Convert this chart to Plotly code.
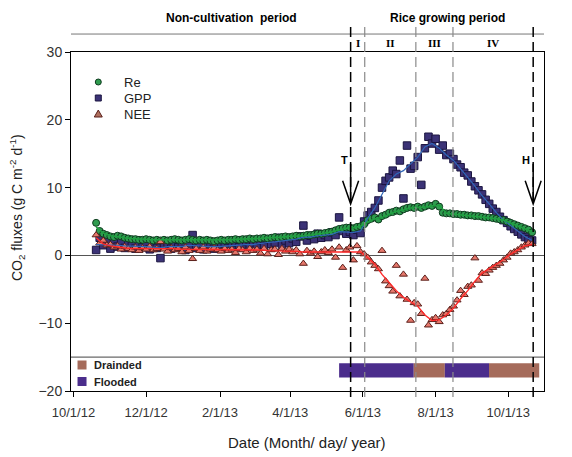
import pandas as pd
import plotly.graph_objects as go

# ---------------- data ----------------
# daily-flux observations, sampled every 3 days starting 2012-10-20
obs_dates = pd.date_range("2012-10-20", periods=123, freq="3D")

re_obs = [4.8, 3.6, 3.2, 3.0, 2.8, 2.7, 2.9, 2.8, 2.6, 2.5,
          2.4, 2.4, 2.3, 2.3, 2.4, 2.3, 2.2, 2.3, 2.2, 2.3,
          2.2, 2.3, 2.4, 2.3, 2.2, 2.3, 2.4, 2.3, 2.2, 2.3,
          2.2, 2.3, 2.2, 2.1, 2.2, 2.3, 2.2, 2.3, 2.3, 2.4,
          2.3, 2.4, 2.4, 2.5, 2.4, 2.5, 2.5, 2.6, 2.5, 2.6,
          2.7, 2.6, 2.7, 2.8, 2.7, 2.8, 2.9, 2.8, 2.9, 3.0,
          3.0, 3.1, 3.2, 3.2, 3.3, 3.4, 3.5, 3.7, 3.9, 4.0,
          4.1,
          4.1, 4.0, 4.2, 4.3, 4.6, 5.2, 5.4, 5.6, 5.3, 5.8,
          6.0, 6.3, 6.4, 6.6, 6.5, 6.8, 7.0, 7.1, 7.0, 7.2,
          7.0, 7.2, 7.4, 7.3, 7.6, 7.2, 6.3, 6.2, 6.2, 6.1,
          6.1, 6.0, 6.0, 5.9, 5.9, 5.8, 5.8, 5.7, 5.6, 5.6,
          5.5, 5.4, 5.3, 5.2, 5.0, 4.8, 4.6, 4.4, 4.2, 4.0,
          3.8, 3.4]

gpp_obs = [0.8, 2.6, 1.5, 2.2, 1.0, 1.8, 1.3, 1.9, 1.1, 1.6,
           1.4, 1.0, 1.7, 1.2, 1.5, 0.9, 1.4, 1.1, -0.4, 1.3,
           1.6, 1.0, 1.5, 1.2, 1.8, 0.8, 1.4, 3.0, 1.1, 1.5,
           0.9, 1.6, 1.2, 1.0, 1.5, 1.3, 1.7, 1.1, 1.4, 1.9,
           1.2, 1.6, 2.0, 1.3, 1.8, 1.5, 2.2, 1.4, 2.4, 1.7,
           1.9, 2.6, 1.6, 2.2, 1.8, 2.5, 2.0, 2.8, 4.4, 2.2,
           2.9, 2.4, 3.2, 2.6, 3.0, 2.7, 3.4, 3.0, 5.6, 3.6,
           3.2,
           3.5, 3.0, 3.8, 3.3, 5.0, 5.9, 6.4, 7.0, 8.1, 10.0,
           11.0, 11.5, 12.5, 12.0, 14.0, 8.4, 16.2, 12.8, 13.2, 14.5,
           10.4, 15.8, 17.5, 16.5, 17.2, 15.6, 16.2, 14.8, 15.0, 14.2,
           13.4, 13.0, 12.2, 11.8, 10.9, 10.2, 9.6, 9.0, 8.2, 7.6,
           6.9, 6.4, 5.7, 5.2, 4.8, 4.3, 3.9, 3.5, 3.1, 2.7,
           2.4, 2.2]

nee_obs = [3.0, 1.8, 2.2, 1.5, 1.6, 1.2, 1.4, 0.9, 1.3, 1.0,
           0.8, 1.2, 0.7, 1.1, 0.9, 1.3, 0.8, 1.0, 2.0, 0.9,
           0.6, 1.1, 0.8, 1.0, 0.5, 1.2, 0.7, -0.5, 1.0, 0.7,
           1.2, 0.6, 0.9, 1.1, 0.8, 0.6, 1.0, 0.7, 0.9, 0.4,
           1.0, 0.8, 0.5, 1.0, 0.7, 0.9, 0.3, 1.0, 0.2, 0.8,
           0.9, 0.1, 1.0, 0.6, 0.9, 0.5, 0.8, 0.2, -1.2, 0.7,
           0.3, 0.6, -0.2, 0.5, 0.8, 0.4, 0.9, -0.3, 1.2, -1.8,
           0.8,
           1.2, -0.7, 1.4, 0.5, 0.2, -0.3, -1.0, -1.5, -2.0, 0.7,
           -3.8, -4.5, -5.3, -1.5, -6.0, -2.8, -6.5, -9.6, -7.0, -7.2,
           -8.6, -3.4, -10.3, -9.5, -9.2, -9.8, -8.8, -8.6, -8.0, -7.5,
           -6.6, -5.2, -5.8, -4.6, -4.4, -0.4, -3.7, -2.6, -2.7, -2.2,
           -1.8, -1.5, -1.2, -0.7, -0.3, 0.3, 0.5, 0.8, 1.2, 1.5,
           1.8, 1.7]

# smoothed curves, every 6 days
smooth_dates = pd.date_range("2012-10-20", periods=62, freq="6D")

re_smooth = [4.2, 3.3, 2.9, 2.7, 2.6, 2.5, 2.4, 2.4, 2.3, 2.3,
             2.3, 2.3, 2.3, 2.3, 2.3, 2.3, 2.2, 2.2, 2.3, 2.3,
             2.4, 2.4, 2.5, 2.5, 2.6, 2.6, 2.7, 2.8, 2.8, 2.9,
             3.0, 3.1, 3.3, 3.5, 3.8, 4.0, 4.1, 4.3, 4.9, 5.4,
             5.6, 6.1, 6.5, 6.7, 7.0, 7.1, 7.1, 7.3, 7.4, 6.2,
             6.1, 6.0, 5.9, 5.8, 5.7, 5.6, 5.4, 5.2, 4.8, 4.4,
             4.0, 3.5]

gpp_smooth = [1.6, 1.6, 1.5, 1.5, 1.4, 1.4, 1.4, 1.3, 1.2, 1.1,
              1.3, 1.3, 1.3, 1.5, 1.4, 1.3, 1.3, 1.3, 1.4, 1.4,
              1.5, 1.6, 1.6, 1.8, 1.9, 2.0, 2.1, 2.2, 2.4, 2.7,
              2.7, 2.9, 3.0, 3.1, 3.5, 3.4, 3.4, 3.6, 5.5, 7.0,
              9.0, 11.0, 12.0, 12.5, 13.5, 14.5, 16.0, 16.5, 15.8, 14.8,
              14.0, 12.8, 11.5, 10.2, 8.8, 7.6, 6.3, 5.2, 4.4, 3.5,
              2.8, 2.2]

nee_smooth = [2.6, 1.7, 1.4, 1.2, 1.1, 1.0, 1.0, 1.0, 1.0, 1.1,
              1.0, 1.0, 0.9, 0.9, 0.9, 0.9, 0.9, 0.9, 0.9, 0.8,
              0.8, 0.8, 0.8, 0.8, 0.7, 0.7, 0.7, 0.6, 0.6, 0.5,
              0.5, 0.5, 0.5, 0.5, 0.5, 0.5, 0.6, 0.5, -0.3, -1.3,
              -2.8, -4.0, -5.2, -6.2, -6.8, -7.5, -8.8, -9.6, -9.5, -8.8,
              -7.8, -6.4, -5.2, -3.8, -2.6, -2.0, -1.3, -0.6, 0.2, 0.8,
              1.4, 1.6]

# events (transplanting / harvest) and growth-stage boundaries
event_labels = ["T", "H"]
event_dates = ["2013-05-21 16:00", "2013-10-21 22:00"]
stage_bounds = ["2013-06-02 12:00", "2013-07-15 10:00", "2013-08-15 14:00"]
stage_labels = ["I", "II", "III", "IV"]

# water management periods
water_starts = ["2013-05-12", "2013-07-13 16:00", "2013-08-08 18:00", "2013-09-14 20:00"]
water_ends = ["2013-07-13 16:00", "2013-08-08 18:00", "2013-09-14 20:00", "2013-10-27"]
water_types = ["Flooded", "Drainded", "Flooded", "Drainded"]
water_legend = ["Drainded", "Flooded"]

x_tickvals = ["2012-10-01", "2012-12-01", "2013-02-01", "2013-04-01",
              "2013-06-01", "2013-08-01", "2013-10-01"]
x_ticktext = ["10/1/12", "12/1/12", "2/1/13", "4/1/13", "6/1/13", "8/1/13", "10/1/13"]
y_tickvals = [-20, -10, 0, 10, 20, 30]

# ---------------- styles ----------------
FONT = "Liberation Sans"
C_RE, C_RE_EDGE, C_RE_LINE = "#2f9c4f", "#0f3b1f", "#1fa040"
C_GPP, C_GPP_EDGE, C_GPP_LINE = "#3b3276", "#1b1540", "#2f66b8"
C_NEE, C_NEE_EDGE, C_NEE_LINE = "#e6786c", "#5a1f1a", "#ff2a2a"
WATER_COL = {"Flooded": "#4b2d8c", "Drainded": "#a56b5b"}

fig = go.Figure()

fig.add_trace(go.Scatter(x=obs_dates, y=gpp_obs, mode="markers", name="GPP", showlegend=False,
                         marker=dict(symbol="square", size=7.5, color=C_GPP,
                                     line=dict(color=C_GPP_EDGE, width=1))))
fig.add_trace(go.Scatter(x=obs_dates, y=re_obs, mode="markers", name="Re", showlegend=False,
                         marker=dict(symbol="circle", size=7, color=C_RE,
                                     line=dict(color=C_RE_EDGE, width=1))))
fig.add_trace(go.Scatter(x=obs_dates, y=nee_obs, mode="markers", name="NEE", showlegend=False,
                         marker=dict(symbol="triangle-up", size=7, color=C_NEE,
                                     line=dict(color=C_NEE_EDGE, width=1))))
fig.add_trace(go.Scatter(x=smooth_dates, y=gpp_smooth, mode="lines", showlegend=False,
                         line=dict(color=C_GPP_LINE, width=1.2)))
fig.add_trace(go.Scatter(x=smooth_dates, y=re_smooth, mode="lines", showlegend=False,
                         line=dict(color=C_RE_LINE, width=1.6)))
fig.add_trace(go.Scatter(x=smooth_dates, y=nee_smooth, mode="lines", showlegend=False,
                         line=dict(color=C_NEE_LINE, width=1.4)))

shapes = []
annos = []


def text(x, y, s, xref="paper", yref="paper", xanchor="center", yanchor="middle", **kw):
    d = dict(x=x, y=y, xref=xref, yref=yref, text=s, showarrow=False,
             xanchor=xanchor, yanchor=yanchor)
    d.update(kw)
    annos.append(d)


# separator line at -15 and header line
shapes.append(dict(type="line", xref="paper", yref="y", x0=0, x1=1, y0=-15, y1=-15,
                   line=dict(color="#444", width=1)))
shapes.append(dict(type="line", xref="paper", yref="paper", x0=0, x1=1, y0=1.053, y1=1.053,
                   line=dict(color="#777", width=1)))

# water management bars
for s, e, t in zip(water_starts, water_ends, water_types):
    shapes.append(dict(type="rect", xref="x", yref="y", x0=s, x1=e, y0=-18.0, y1=-15.9,
                       fillcolor=WATER_COL[t], line=dict(width=0), layer="above"))

# vertical period lines
for d in event_dates:
    shapes.append(dict(type="line", xref="x", yref="paper", x0=d, x1=d, y0=-0.018, y1=1.077,
                       line=dict(color="black", width=1.5, dash="10px,5px")))
for d in stage_bounds:
    shapes.append(dict(type="line", xref="x", yref="paper", x0=d, x1=d, y0=-0.018, y1=1.077,
                       line=dict(color="#8a8a8a", width=1.2, dash="10px,5px")))

# arrows at T and H
for lab, d in zip(event_labels, event_dates):
    shapes.append(dict(type="path", xref="x", yref="y", xsizemode="pixel", ysizemode="pixel",
                       xanchor=d, yanchor=7.6, path="M0,0 L0,40 M-8,23 L0,0 L8,23",
                       line=dict(color="black", width=1.5)))
    text(d, 14.0, "<b>%s</b>" % lab, xref="x", yref="y",
         xshift=-6 if lab == "T" else -7, font=dict(family=FONT, size=11, color="black"))

# stage numerals
bounds_all = [event_dates[0]] + stage_bounds + [event_dates[1]]
bt = pd.to_datetime(bounds_all)
for i, lab in enumerate(stage_labels):
    mid = bt[i] + (bt[i + 1] - bt[i]) / 2
    text(mid, 1.027, "<b>%s</b>" % lab, xref="x",
         font=dict(family="Liberation Serif", size=11, color="black"))

# header texts
text(0.340, 1.100, "<b>Non-cultivation  period</b>", font=dict(family=FONT, size=12, color="black"))
text(0.795, 1.100, "<b>Rice growing period</b>", font=dict(family=FONT, size=12, color="black"))

# series legend (top-left)
leg_names = ["Re", "GPP", "NEE"]
leg_y = [0.9115, 0.8643, 0.8171]
leg_x = 0.0577
shapes.append(dict(type="circle", xref="paper", yref="paper", xsizemode="pixel", ysizemode="pixel",
                   xanchor=leg_x, yanchor=leg_y[0], x0=-3, x1=3, y0=-3, y1=3,
                   fillcolor=C_RE, line=dict(color=C_RE_EDGE, width=1)))
shapes.append(dict(type="rect", xref="paper", yref="paper", xsizemode="pixel", ysizemode="pixel",
                   xanchor=leg_x, yanchor=leg_y[1], x0=-3, x1=3, y0=-3, y1=3,
                   fillcolor=C_GPP, line=dict(color=C_GPP_EDGE, width=1)))
shapes.append(dict(type="path", xref="paper", yref="paper", xsizemode="pixel", ysizemode="pixel",
                   xanchor=leg_x, yanchor=leg_y[2], path="M-4,-3 L4,-3 L0,4 Z",
                   fillcolor="#b0705e", line=dict(color=C_NEE_EDGE, width=1)))
for name, yy in zip(leg_names, leg_y):
    text(0.107, yy, name, xanchor="left", font=dict(family=FONT, size=13, color="#222"))

# water legend (bottom-left)
wl_y = [0.0767, 0.028]
for name, yy in zip(water_legend, wl_y):
    shapes.append(dict(type="rect", xref="paper", yref="paper", xsizemode="pixel", ysizemode="pixel",
                       xanchor=0.0233, yanchor=yy, x0=-4.5, x1=4.5, y0=-4.5, y1=4.5,
                       fillcolor=WATER_COL[name], line=dict(width=0)))
    text(0.0444, yy, "<b>%s</b>" % name, xanchor="left", font=dict(family=FONT, size=11, color="#222"))

# axis titles
text(0.499, -0.153, "Date (Month/ day/ year)", font=dict(family=FONT, size=15, color="#222"))
text(-0.114, 0.54, "CO<sub>2</sub> fluxes (g C m<sup>-2</sup> d<sup>-1</sup>)", textangle=-90,
     font=dict(family=FONT, size=14, color="#222"))

fig.update_layout(
    width=572, height=457,
    margin=dict(l=71, r=28, t=52, b=66),
    plot_bgcolor="white", paper_bgcolor="white",
    showlegend=False,
    shapes=shapes, annotations=annos,
    xaxis=dict(type="date", range=["2012-09-28 22:00", "2013-10-31 00:00"],
               tickvals=x_tickvals, ticktext=x_ticktext,
               showline=True, linecolor="black", linewidth=1, mirror=True,
               ticks="outside", ticklen=5, tickcolor="black", showgrid=False, zeroline=False,
               ticklabelstandoff=4,
               tickfont=dict(family=FONT, size=13, color="#333")),
    yaxis=dict(range=[-20, 30], tickvals=y_tickvals,
               showline=True, linecolor="black", linewidth=1, mirror=True,
               ticks="outside", ticklen=5, tickcolor="black", showgrid=False,
               zeroline=True, zerolinecolor="#555", zerolinewidth=1,
               tickfont=dict(family=FONT, size=14, color="#333")),
)

# the browser's default 8px body margin would shift the figure; remove it
fig.write_html("out.html", config={"displayModeBar": False},
               post_script="document.body.style.margin='0px';")
